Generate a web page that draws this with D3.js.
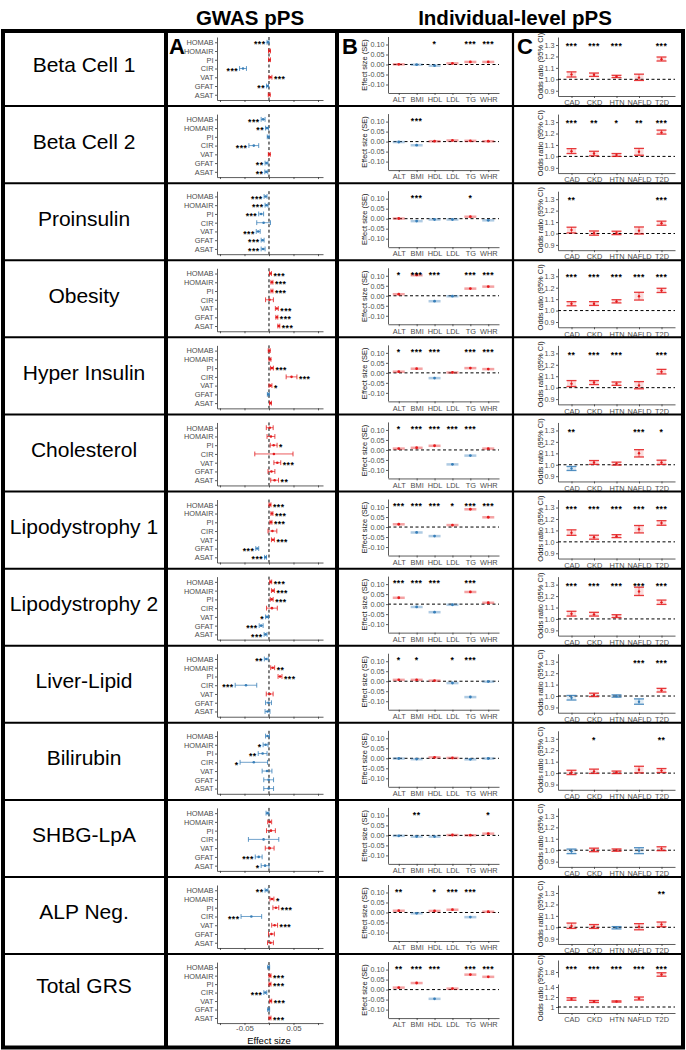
<!DOCTYPE html>
<html><head><meta charset="utf-8">
<script src="https://cdn.jsdelivr.net/npm/d3@7"></script>
<style>
body{margin:0;background:#fff;}
svg{display:block;font-family:"Liberation Sans",Arial,sans-serif;}
</style></head><body>
<svg id="chart" width="686" height="1050"></svg>
<script>
const rowNames = ["Beta Cell 1","Beta Cell 2","Proinsulin","Obesity","Hyper Insulin","Cholesterol","Lipodystrophy 1","Lipodystrophy 2","Liver-Lipid","Bilirubin","SHBG-LpA","ALP Neg.","Total GRS"];

// Panel A: GWAS pPS
const gwasTraits = ["HOMAB","HOMAIR","PI","CIR","VAT","GFAT","ASAT"];
const gwasEst = [
  [-0.002, 0.001, 0.001, -0.053, 0.003, -0.003, 0.0005],
  [-0.012, -0.004, -0.0015, -0.031, 0.0007, -0.005, -0.0055],
  [-0.007, -0.005, -0.016, -0.011, -0.022, -0.013, -0.012],
  [0.003, 0.006, 0.006, 0.001, 0.016, 0.016, 0.020],
  [0.0005, 0.002, 0.006, 0.046, 0.003, -0.0013, 0.003],
  [0.0015, 0.004, 0.0095, 0.010, 0.017, 0.005, 0.0115],
  [0.002, 0.006, 0.004, 0.007, 0.008, -0.024, -0.007],
  [0.0035, 0.008, 0.0055, 0.006, -0.004, -0.016, -0.007],
  [-0.0055, 0.0075, 0.0225, -0.047, 0.0014, -0.001, -0.003],
  [-0.003, -0.007, -0.013, -0.031, -0.004, -0.0007, -0.0007],
  [-0.003, 0.0014, 0.004, -0.011, 0.0014, -0.021, -0.008],
  [-0.005, 0.006, 0.014, -0.036, 0.0115, 0.005, 0.003],
  [-0.0007, 0.002, 0.002, -0.0075, 0.0035, -0.0007, 0.002]
];
const gwasCI = [
  [0.002, 0.002, 0.002, 0.007, 0.003, 0.002, 0.002],
  [0.004, 0.003, 0.002, 0.010, 0.002, 0.003, 0.003],
  [0.003, 0.003, 0.005, 0.014, 0.004, 0.003, 0.004],
  [0.002, 0.002, 0.002, 0.008, 0.003, 0.002, 0.002],
  [0.002, 0.002, 0.003, 0.011, 0.003, 0.002, 0.002],
  [0.007, 0.008, 0.007, 0.039, 0.007, 0.007, 0.008],
  [0.002, 0.002, 0.002, 0.009, 0.003, 0.003, 0.002],
  [0.002, 0.003, 0.003, 0.011, 0.003, 0.004, 0.003],
  [0.004, 0.004, 0.004, 0.022, 0.007, 0.006, 0.005],
  [0.004, 0.005, 0.009, 0.028, 0.010, 0.010, 0.010],
  [0.003, 0.004, 0.009, 0.031, 0.009, 0.007, 0.008],
  [0.003, 0.004, 0.006, 0.021, 0.006, 0.006, 0.006],
  [0.002, 0.002, 0.002, 0.003, 0.002, 0.002, 0.002]
];
const gwasStars = [
  ["***","","","***","***","**",""],
  ["***","**","","***","","**","**"],
  ["***","***","***","","***","***","***"],
  ["***","***","***","","***","***","***"],
  ["","","***","***","*","",""],
  ["","","*","","***","","**"],
  ["***","***","***","","***","***","***"],
  ["***","***","***","","*","***","***"],
  ["**","**","***","***","","",""],
  ["","*","**","*","","",""],
  ["","","","","","***","*"],
  ["**","*","***","***","***","",""],
  ["","***","***","***","***","","***"]
];
const gwasDomain = [-0.1061, 0.1102];
const gwasTicks = [-0.1, -0.05, 0, 0.05, 0.1];
const gwasTickLabels = ["", "-0.05", "", "0.05", ""];

// Panel B: individual-level effect sizes
const bTraits = ["ALT","BMI","HDL","LDL","TG","WHR"];
const bEst = [
  [0.001, -0.001, -0.006, 0.006, 0.013, 0.013],
  [-0.002, -0.018, 0.002, 0.006, 0.004, 0.002],
  [0.001, -0.012, -0.004, -0.004, 0.010, -0.008],
  [0.008, 0.104, -0.027, -0.002, 0.036, 0.046],
  [0.006, 0.021, -0.026, 0.002, 0.024, 0.019],
  [0.007, 0.011, 0.021, -0.072, -0.028, 0.007],
  [0.014, -0.027, -0.045, 0.010, 0.089, 0.049],
  [0.032, -0.014, -0.040, -0.003, 0.061, 0.007],
  [0.007, 0.007, 0.003, -0.009, -0.079, -0.002],
  [-0.001, -0.004, 0.005, 0.002, -0.005, -0.001],
  [-0.002, -0.006, -0.006, 0.002, 0.001, 0.009],
  [0.009, -0.004, 0.008, 0.014, -0.023, 0.004],
  [0.010, 0.033, -0.046, 0.005, 0.075, 0.064]
];
const bSE = [
  [0.006, 0.006, 0.006, 0.006, 0.006, 0.006],
  [0.006, 0.006, 0.006, 0.006, 0.006, 0.006],
  [0.006, 0.006, 0.006, 0.006, 0.006, 0.006],
  [0.006, 0.005, 0.006, 0.006, 0.006, 0.006],
  [0.006, 0.006, 0.006, 0.006, 0.006, 0.006],
  [0.006, 0.006, 0.006, 0.006, 0.006, 0.006],
  [0.006, 0.006, 0.006, 0.006, 0.006, 0.006],
  [0.006, 0.006, 0.006, 0.006, 0.006, 0.006],
  [0.006, 0.006, 0.006, 0.006, 0.006, 0.006],
  [0.006, 0.006, 0.006, 0.006, 0.006, 0.006],
  [0.006, 0.006, 0.006, 0.006, 0.006, 0.006],
  [0.006, 0.006, 0.006, 0.006, 0.006, 0.006],
  [0.006, 0.006, 0.006, 0.006, 0.006, 0.006]
];
const bStars = [
  ["","","*","","***","***"],
  ["","***","","","",""],
  ["","***","","","*",""],
  ["*","***","***","","***","***"],
  ["*","***","***","","***","***"],
  ["*","***","***","***","***",""],
  ["***","***","***","*","***","***"],
  ["***","***","***","","***",""],
  ["*","*","","*","***",""],
  ["","","","","",""],
  ["","**","","","","*"],
  ["**","","*","***","***",""],
  ["**","***","***","","***","***"]
];
const bTicks = [0.10, 0.05, 0.00, -0.05, -0.10];
const bTickLabels = ["0.10","0.05","0.00","-0.05","-0.10"];

// Panel C: individual-level odds ratios
const cTraits = ["CAD","CKD","HTN","NAFLD","T2D"];
const cOR = [
  [1.043, 1.040, 1.025, 1.015, 1.175],
  [1.045, 1.025, 1.012, 1.040, 1.210],
  [1.030, 1.003, 1.005, 1.025, 1.090],
  [1.060, 1.060, 1.080, 1.125, 1.175],
  [1.035, 1.045, 1.035, 1.020, 1.140],
  [0.968, 1.020, 1.010, 1.100, 1.020],
  [1.080, 1.040, 1.050, 1.110, 1.165],
  [1.045, 1.040, 1.025, 1.240, 1.145],
  [0.985, 1.010, 0.999, 0.950, 1.050],
  [1.005, 1.015, 1.007, 1.030, 1.022],
  [0.990, 1.002, 1.001, 0.996, 1.012],
  [1.012, 1.006, 0.996, 1.005, 1.025],
  [1.160, 1.110, 1.110, 1.170, 1.750]
];
const cLow = [
  [1.020, 1.025, 1.015, 0.990, 1.160],
  [1.025, 1.005, 1.000, 1.010, 1.195],
  [1.005, 0.985, 0.990, 0.995, 1.072],
  [1.042, 1.045, 1.067, 1.092, 1.158],
  [1.010, 1.027, 1.020, 0.990, 1.120],
  [0.950, 1.003, 0.997, 1.068, 1.003],
  [1.057, 1.023, 1.037, 1.078, 1.145],
  [1.025, 1.025, 1.012, 1.205, 1.127],
  [0.965, 0.995, 0.990, 0.928, 1.035],
  [0.987, 0.997, 0.996, 1.002, 1.005],
  [0.970, 0.987, 0.991, 0.970, 0.996],
  [0.990, 0.990, 0.986, 0.978, 1.005],
  [1.135, 1.090, 1.098, 1.140, 1.715]
];
const cHigh = [
  [1.065, 1.055, 1.035, 1.045, 1.195],
  [1.068, 1.045, 1.025, 1.070, 1.230],
  [1.055, 1.022, 1.020, 1.057, 1.108],
  [1.078, 1.078, 1.095, 1.160, 1.195],
  [1.062, 1.062, 1.050, 1.053, 1.160],
  [0.985, 1.037, 1.023, 1.132, 1.040],
  [1.105, 1.058, 1.063, 1.143, 1.185],
  [1.067, 1.058, 1.037, 1.278, 1.165],
  [1.005, 1.025, 1.010, 0.975, 1.067],
  [1.025, 1.035, 1.018, 1.060, 1.040],
  [1.010, 1.018, 1.011, 1.022, 1.030],
  [1.037, 1.024, 1.006, 1.032, 1.046],
  [1.185, 1.130, 1.122, 1.200, 1.785]
];
const cStars = [
  ["***","***","***","","***"],
  ["***","**","*","**","***"],
  ["**","","","","***"],
  ["***","***","***","***","***"],
  ["**","***","***","","***"],
  ["**","","","***","*"],
  ["***","***","***","***","***"],
  ["***","***","***","***","***"],
  ["","","","***","***"],
  ["","*","","","**"],
  ["","","","",""],
  ["","","","","**"],
  ["***","***","***","***","***"]
];
const cTicks = [0.9, 1.0, 1.1, 1.2, 1.3];
const cTickLabels = ["0.9","1.0","1.1","1.2","1.3"];
const cTicksLower = [1, 1.2, 1.4];
const cTickLabelsLower = ["1","1.2","1.4"];
const cTicksUpper = [1.8];
const cTickLabelsUpper = ["1.8"];

// ---------- drawing ----------
const svg = d3.select("#chart");
const RED = "#E41A1C", BLUE = "#377EB8";
const AXC = "#333", TXC = "#4d4d4d";
const LEFT = 3, RIGHT = 683, TOP = 31, BOTTOM = 1047.5;
const rowTop = i => 29 + i * 77.09;
const colorOf = (v, ref) => v >= ref ? RED : BLUE;

function styleAxis(g, fs) {
  g.select(".domain").attr("stroke", AXC).attr("stroke-width", 0.8);
  g.selectAll(".tick line").attr("stroke", AXC).attr("stroke-width", 0.8);
  g.selectAll(".tick text").attr("fill", TXC).style("font-size", fs + "px").style("font-family", "Liberation Sans, Arial, sans-serif");
}
function stars(g, x, y, txt, anchor) {
  if (!txt) return;
  g.append("text").attr("x", x).attr("y", y + 5.2).attr("text-anchor", anchor)
    .style("font-size", "8.6px").style("font-weight", "bold").style("letter-spacing", "0.5px")
    .attr("fill", "#000").text(txt);
}

// headers
svg.append("text").attr("x", 250).attr("y", 25).attr("text-anchor", "middle")
  .style("font-size", "20.5px").style("font-weight", "bold").text("GWAS pPS");
svg.append("text").attr("x", 515).attr("y", 25).attr("text-anchor", "middle")
  .style("font-size", "20.5px").style("font-weight", "bold").text("Individual-level pPS");

function drawA(i, T, last) {
  const g = svg.append("g");
  const axisPos = last ? T + 69 : T + 71;
  const y = d3.scalePoint().domain(gwasTraits).range([T + 8, axisPos]).padding(0.6);
  const x = d3.scaleLinear().domain(gwasDomain).range([217, 323]);
  g.append("line").attr("x1", x(0)).attr("x2", x(0)).attr("y1", T + 8).attr("y2", axisPos)
    .attr("stroke", "#000").attr("stroke-width", 1).attr("stroke-dasharray", "3,2.5");
  const ay = g.append("g").attr("transform", "translate(217,0)")
    .call(d3.axisLeft(y).tickSize(2).tickPadding(1.5).tickSizeOuter(0));
  styleAxis(ay, 7.4);
  const ax = g.append("g").attr("transform", `translate(0,${axisPos})`)
    .call(d3.axisBottom(x).tickValues(gwasTicks).tickSize(2).tickPadding(0.5).tickSizeOuter(0)
      .tickFormat((d, k) => last ? gwasTickLabels[k] : ""));
  styleAxis(ax, 7.8);
  gwasTraits.forEach((t, k) => {
    const e = gwasEst[i][k], h = gwasCI[i][k];
    const col = colorOf(e, 0);
    const yy = y(t), x0 = x(e - h), x1 = x(e + h);
    g.append("line").attr("x1", x0).attr("x2", x1).attr("y1", yy).attr("y2", yy)
      .attr("stroke", col).attr("stroke-width", 1).attr("opacity", 0.7);
    [x0, x1].forEach(xc => g.append("line").attr("x1", xc).attr("x2", xc).attr("y1", yy - 2.4).attr("y2", yy + 2.4)
      .attr("stroke", col).attr("stroke-width", 1).attr("opacity", 0.8));
    g.append("circle").attr("cx", x(e)).attr("cy", yy).attr("r", 1.3).attr("fill", col);
    if (e < 0) stars(g, x0 - 1.5, yy, gwasStars[i][k], "end");
    else stars(g, x1 + 2, yy, gwasStars[i][k], "start");
  });
  if (last) {
    g.append("text").attr("x", x(0)).attr("y", 1044).attr("text-anchor", "middle")
      .style("font-size", "9.5px").attr("fill", "#000").text("Effect size");
  }
}

function drawB(i, T, last) {
  const g = svg.append("g");
  const x = d3.scalePoint().domain(bTraits).range([388, 499]).padding(0.6);
  const y = d3.scaleLinear().domain([-0.14, 0.14]).range([T + 63.5, T + 7.5]);
  g.append("line").attr("x1", 388).attr("x2", 499).attr("y1", y(0)).attr("y2", y(0))
    .attr("stroke", "#000").attr("stroke-width", 1).attr("stroke-dasharray", "3,2.5");
  const ay = g.append("g").attr("transform", "translate(388,0)")
    .call(d3.axisLeft(y).tickValues(bTicks).tickSize(2).tickPadding(1.5).tickSizeOuter(0)
      .tickFormat((d, k) => bTickLabels[k]));
  styleAxis(ay, 7.2);
  const ax = g.append("g").attr("transform", `translate(0,${T + 64})`)
    .call(d3.axisBottom(x).tickSize(2).tickPadding(2).tickSizeOuter(0));
  styleAxis(ax, 7.4);
  bTraits.forEach((t, k) => {
    const e = bEst[i][k], h = bSE[i][k];
    const col = colorOf(e, 0);
    const xx = x(t);
    const yTop = y(e + h), yBot = y(e - h);
    g.append("rect").attr("x", xx - 6).attr("width", 12).attr("y", yTop).attr("height", Math.max(2.5, yBot - yTop))
      .attr("fill", col).attr("opacity", 0.4);
    g.append("circle").attr("cx", xx).attr("cy", y(e)).attr("r", 1.4).attr("fill", col);
    stars(g, xx, T + 12.5, bStars[i][k], "middle");
  });
  g.append("text").attr("transform", `translate(364,${T + 36}) rotate(-90)`).attr("text-anchor", "middle")
    .attr("dominant-baseline", "central").style("font-size", "7.5px").attr("fill", "#1a1a1a").text("Effect size (SE)");
}

function drawC(i, T, last) {
  const g = svg.append("g");
  const x = d3.scalePoint().domain(cTraits).range([558, 675]).padding(0.6);
  let yOf, axisY;
  if (!last) {
    const y = d3.scaleLinear().domain([0.854, 1.37]).range([T + 67, T + 8]);
    yOf = v => y(v);
    axisY = T + 67;
    const ay = g.append("g").attr("transform", "translate(558,0)")
      .call(d3.axisLeft(y).tickValues(cTicks).tickSize(2).tickPadding(1.5).tickSizeOuter(0)
        .tickFormat((d, k) => cTickLabels[k]));
    styleAxis(ay, 7.2);
  } else {
    const yL = d3.scaleLinear().domain([0.88, 1.46]).range([1013, 984]);
    const yU = d3.scaleLinear().domain([1.7, 2.04]).range([977, 960]);
    yOf = v => v > 1.6 ? yU(v) : yL(v);
    axisY = 1013;
    const ayL = g.append("g").attr("transform", "translate(558,0)")
      .call(d3.axisLeft(yL).tickValues(cTicksLower).tickSize(2).tickPadding(1.5).tickSizeOuter(0)
        .tickFormat((d, k) => cTickLabelsLower[k]));
    styleAxis(ayL, 7.2);
    const ayU = g.append("g").attr("transform", "translate(558,0)")
      .call(d3.axisLeft(yU).tickValues(cTicksUpper).tickSize(2).tickPadding(1.5).tickSizeOuter(0)
        .tickFormat((d, k) => cTickLabelsUpper[k]));
    styleAxis(ayU, 7.2);
  }
  g.append("line").attr("x1", 558).attr("x2", 675).attr("y1", yOf(1)).attr("y2", yOf(1))
    .attr("stroke", "#000").attr("stroke-width", 1).attr("stroke-dasharray", "3,2.5");
  const ax = g.append("g").attr("transform", `translate(0,${axisY})`)
    .call(d3.axisBottom(x).tickSize(2).tickPadding(2).tickSizeOuter(0));
  styleAxis(ax, 7.4);
  cTraits.forEach((t, k) => {
    const v = cOR[i][k], lo = cLow[i][k], hi = cHigh[i][k];
    const col = colorOf(v, 1);
    const xx = x(t);
    const yl = yOf(lo), yh = yOf(hi);
    g.append("rect").attr("x", xx - 4.5).attr("width", 9).attr("y", yh).attr("height", yl - yh)
      .attr("fill", col).attr("opacity", 0.15);
    g.append("line").attr("x1", xx).attr("x2", xx).attr("y1", yl).attr("y2", yh)
      .attr("stroke", col).attr("stroke-width", 1).attr("opacity", 0.6);
    [yl, yh].forEach(yc => g.append("line").attr("x1", xx - 5).attr("x2", xx + 5).attr("y1", yc).attr("y2", yc)
      .attr("stroke", col).attr("stroke-width", 1.3).attr("opacity", 0.85));
    g.append("circle").attr("cx", xx).attr("cy", yOf(v)).attr("r", 1.2).attr("fill", col);
    stars(g, xx, last ? 967 : T + 15, cStars[i][k], "middle");
  });
  g.append("text").attr("transform", `translate(540,${last ? T + 34 : T + 37}) rotate(-90)`).attr("text-anchor", "middle")
    .attr("dominant-baseline", "central").style("font-size", "7.5px").attr("fill", "#1a1a1a").text("Odds ratio (95% CI)");
}

rowNames.forEach((name, i) => {
  const T = rowTop(i);
  const last = i === rowNames.length - 1;
  svg.append("text").attr("x", 84).attr("y", last ? 985 : T + 35).attr("text-anchor", "middle")
    .attr("dominant-baseline", "central").style("font-size", "21px").attr("fill", "#000").text(name);
  drawA(i, T, last);
  drawB(i, T, last);
  drawC(i, T, last);
});

// panel letters
[["A", 169], ["B", 342], ["C", 517]].forEach(([l, x]) =>
  svg.append("text").attr("x", x).attr("y", 54).style("font-size", "22px").style("font-weight", "bold").text(l));

// table grid
const grid = svg.append("g").attr("fill", "none").attr("stroke", "#000");
d3.range(1, 13).forEach(i => grid.append("line").attr("x1", LEFT).attr("x2", RIGHT)
  .attr("y1", rowTop(i)).attr("y2", rowTop(i)).attr("stroke-width", 2));
[[166, 4], [337, 4], [513, 2.2]].forEach(([x, w]) => grid.append("line").attr("x1", x).attr("x2", x)
  .attr("y1", TOP).attr("y2", BOTTOM).attr("stroke-width", w));
grid.append("rect").attr("x", LEFT).attr("y", TOP).attr("width", RIGHT - LEFT).attr("height", BOTTOM - TOP)
  .attr("stroke-width", 4);
</script>
</body></html>
